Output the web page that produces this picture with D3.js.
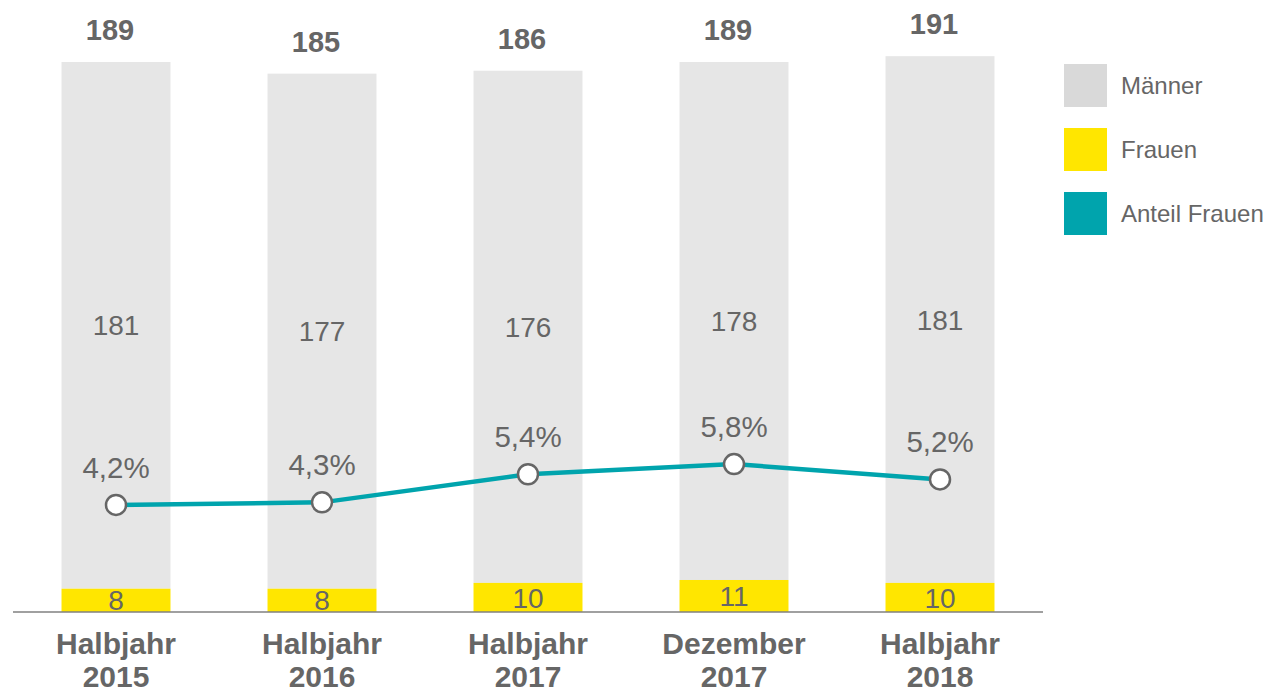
<!DOCTYPE html>
<html lang="de">
<head>
    <meta charset="UTF-8">
    <title>Anteil Frauen</title>
    <script type="text/javascript" src="https://d3js.org/d3.v7.min.js"></script>
    <style>
        body { margin: 0; background: #fff; }
        text { font-family: Arial, "Liberation Sans", sans-serif; fill: #666666; }
    </style>
</head>
<body>
    <div id="chart"></div>
    <script>
        // data
        const categories = [["Halbjahr", "2015"], ["Halbjahr", "2016"], ["Halbjahr", "2017"], ["Dezember", "2017"], ["Halbjahr", "2018"]];
        const maenner = [181, 177, 176, 178, 181];
        const frauen = [8, 8, 10, 11, 10];
        const totals = [189, 185, 186, 189, 191];
        const anteil = [4.2, 4.3, 5.4, 5.8, 5.2];
        const legendLabels = ["Männer", "Frauen", "Anteil Frauen"];
        const legendColors = ["#d9d9d9", "#ffe600", "#00a4ad"];

        const width = 1268, height = 696;
        const svg = d3.select("#chart").append("svg")
            .attr("width", width)
            .attr("height", height);

        const xScale = d3.scaleBand()
            .domain(d3.range(categories.length))
            .range([13, 1043])
            .paddingInner(0.471)
            .paddingOuter(0.2355);

        const yScale = d3.scaleLinear()
            .domain([0, 189])
            .range([612, 62]);

        // percent axis (hidden)
        const y2Scale = d3.scaleLinear()
            .domain([0, 21.57])
            .range([612, 62]);

        const bw = xScale.bandwidth();
        const cx = i => xScale(i) + bw / 2;

        // Männer segments
        svg.append("g").selectAll("rect")
            .data(maenner)
            .enter().append("rect")
            .attr("x", (d, i) => xScale(i))
            .attr("y", (d, i) => yScale(frauen[i] + d))
            .attr("width", bw)
            .attr("height", (d, i) => yScale(frauen[i]) - yScale(frauen[i] + d))
            .attr("fill", "#e6e6e6");

        // Frauen segments
        svg.append("g").selectAll("rect")
            .data(frauen)
            .enter().append("rect")
            .attr("x", (d, i) => xScale(i))
            .attr("y", d => yScale(d))
            .attr("width", bw)
            .attr("height", d => yScale(0) - yScale(d))
            .attr("fill", "#ffe600");

        // baseline
        svg.append("line")
            .attr("x1", 13).attr("x2", 1043)
            .attr("y1", yScale(0)).attr("y2", yScale(0))
            .attr("stroke", "#808080")
            .attr("stroke-width", 1.5);

        // labels inside bars
        svg.append("g").selectAll("text")
            .data(maenner)
            .enter().append("text")
            .attr("x", (d, i) => cx(i))
            .attr("y", (d, i) => (yScale(frauen[i] + d) + yScale(frauen[i])) / 2)
            .attr("dy", "0.36em")
            .attr("text-anchor", "middle")
            .style("font-size", "28px")
            .text(d => d);

        svg.append("g").selectAll("text")
            .data(frauen)
            .enter().append("text")
            .attr("x", (d, i) => cx(i))
            .attr("y", d => (yScale(d) + yScale(0)) / 2)
            .attr("dy", "0.36em")
            .attr("text-anchor", "middle")
            .style("font-size", "28px")
            .text(d => d);

        // totals
        svg.append("g").selectAll("text")
            .data(totals)
            .enter().append("text")
            .attr("x", (d, i) => cx(i) - 6)
            .attr("y", d => yScale(d) - 22)
            .attr("text-anchor", "middle")
            .style("font-size", "29px")
            .style("font-weight", "bold")
            .text(d => d);

        // line
        const line = d3.line()
            .x((d, i) => cx(i))
            .y(d => y2Scale(d));

        svg.append("path")
            .attr("d", line(anteil))
            .attr("fill", "none")
            .attr("stroke", "#00a4ad")
            .attr("stroke-width", 4.5);

        svg.append("g").selectAll("circle")
            .data(anteil)
            .enter().append("circle")
            .attr("cx", (d, i) => cx(i))
            .attr("cy", d => y2Scale(d))
            .attr("r", 10)
            .attr("fill", "#fff")
            .attr("stroke", "#666666")
            .attr("stroke-width", 2.5);

        svg.append("g").selectAll("text")
            .data(anteil)
            .enter().append("text")
            .attr("x", (d, i) => cx(i))
            .attr("y", d => y2Scale(d) - 27)
            .attr("text-anchor", "middle")
            .style("font-size", "29.5px")
            .text(d => d3.format(".1f")(d).replace(".", ",") + "%");

        // category labels
        const cat = svg.append("g").selectAll("text")
            .data(categories)
            .enter().append("text")
            .attr("x", (d, i) => cx(i))
            .attr("y", 654)
            .attr("text-anchor", "middle")
            .style("font-size", "30px")
            .style("font-weight", "bold");
        cat.append("tspan")
            .attr("x", (d, i) => cx(i))
            .text(d => d[0]);
        cat.append("tspan")
            .attr("x", (d, i) => cx(i))
            .attr("dy", 33)
            .text(d => d[1]);

        // legend
        const legend = svg.append("g").selectAll("g")
            .data(legendLabels)
            .enter().append("g")
            .attr("transform", (d, i) => "translate(1064," + (64 + i * 64) + ")");
        legend.append("rect")
            .attr("width", 43)
            .attr("height", 43)
            .attr("fill", (d, i) => legendColors[i]);
        legend.append("text")
            .attr("x", 57)
            .attr("y", 21.5)
            .attr("dy", "0.36em")
            .style("font-size", "24px")
            .text(d => d);
    </script>
</body>
</html>
